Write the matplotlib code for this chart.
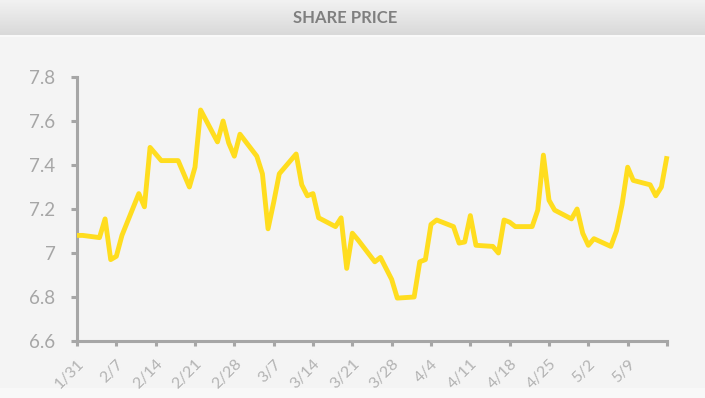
import numpy as np
import pandas as pd
import matplotlib
matplotlib.use("Agg")
import matplotlib.pyplot as plt
from matplotlib.colors import LinearSegmentedColormap

# ---- data ----
dates = pd.bdate_range("2019-01-31", "2019-05-16")
prices = [7.08, 7.08,
          7.07, 7.155, 6.97, 6.985, 7.08,
          7.27, 7.21, 7.48, 7.45, 7.42,
          7.42, 7.36, 7.30, 7.39, 7.65,
          7.505, 7.60, 7.50, 7.44, 7.54,
          7.44, 7.36, 7.11, 7.23, 7.36,
          7.45, 7.31, 7.26, 7.27, 7.16,
          7.12, 7.16, 6.93, 7.09, 7.06,
          6.96, 6.98, 6.93, 6.88, 6.795,
          6.80, 6.96, 6.97, 7.13, 7.15,
          7.12, 7.045, 7.05, 7.17, 7.035,
          7.03, 7.00, 7.15, 7.14, 7.12,
          7.12, 7.195, 7.445, 7.24, 7.195,
          7.155, 7.20, 7.09, 7.035, 7.065,
          7.03, 7.10, 7.22, 7.39, 7.33,
          7.31, 7.26, 7.30, 7.44]
tick_dates = ["2019-01-31", "2019-02-07", "2019-02-14", "2019-02-21", "2019-02-28",
              "2019-03-07", "2019-03-14", "2019-03-21", "2019-03-28", "2019-04-04",
              "2019-04-11", "2019-04-18", "2019-04-25", "2019-05-02", "2019-05-09",
              "2019-05-16"]
tick_labels = ["1/31", "2/7", "2/14", "2/21", "2/28", "3/7", "3/14", "3/21",
               "3/28", "4/4", "4/11", "4/18", "4/25", "5/2", "5/9", ""]
y_ticks = [6.6, 6.8, 7.0, 7.2, 7.4, 7.6, 7.8]
title = "SHARE PRICE"

# ---- figure ----
W, H = 705, 398
fig = plt.figure(figsize=(W / 100, H / 100), dpi=100, facecolor="#f4f4f4")

# bottom lighter strip (behind everything)
fig.patches.append(plt.Rectangle((0, 0), 1, 10 / H, transform=fig.transFigure,
                                 facecolor="#f8f8f8", edgecolor="none", zorder=-10))

# title band with gradient
band = fig.add_axes([0, 1 - 35 / H, 1, 35 / H])
grad = np.linspace(0, 1, 64).reshape(-1, 1)
cm = LinearSegmentedColormap.from_list("g", ["#f2f2f2", "#d9d9d9"])
band.imshow(grad, aspect="auto", cmap=cm, extent=[0, 1, 0, 1], origin="upper")
band.set_axis_off()
fig.add_artist(plt.Line2D([0, 1], [1 - 36 / H, 1 - 36 / H], transform=fig.transFigure,
                          color="#fbfbfb", lw=1.2))
fig.text(345 / W, 1 - 18 / H, title, ha="center", va="center", fontsize=12,
         fontweight="bold", color="#7f7f7f", family="Lato")

t0 = pd.Timestamp("2019-01-31")
xd = np.array([(d - t0).days for d in dates])
xt = np.array([(pd.Timestamp(d) - t0).days for d in tick_dates])

left, right = 77 / W, 667 / W
bottom, top = 1 - 341 / H, 1 - 77 / H
ax = fig.add_axes([left, bottom, right - left, top - bottom])
ax.set_facecolor("none")
ax.plot(xd, prices, color="#FFDD1F", lw=3.5, solid_joinstyle="round",
        solid_capstyle="butt", clip_on=False, zorder=3)

ax.set_xlim(0, 105)
ax.set_ylim(6.6, 7.8)
ax.set_yticks(y_ticks)
ax.set_yticklabels([f"{v:g}" for v in y_ticks])
ax.set_xticks(xt)
ax.set_xticklabels(tick_labels, rotation=45, ha="right", va="top",
                   rotation_mode="anchor")

for s in ["top", "right"]:
    ax.spines[s].set_visible(False)
for s in ["left", "bottom"]:
    ax.spines[s].set_color("#a6a6a6")
    ax.spines[s].set_linewidth(2.2)
    ax.spines[s].set_capstyle("projecting")

ax.tick_params(axis="y", direction="out", length=4.5, width=2.2, color="#a6a6a6",
               labelcolor="#a6a6a6", labelsize=13.5, pad=11)
ax.tick_params(axis="x", direction="out", length=3.5, width=2.2, color="#a6a6a6",
               labelcolor="#b3b3b3", labelsize=11.5, pad=8)
for lab in ax.get_yticklabels() + ax.get_xticklabels():
    lab.set_family("Lato")

fig.savefig("out.png", dpi=100, facecolor=fig.get_facecolor())
